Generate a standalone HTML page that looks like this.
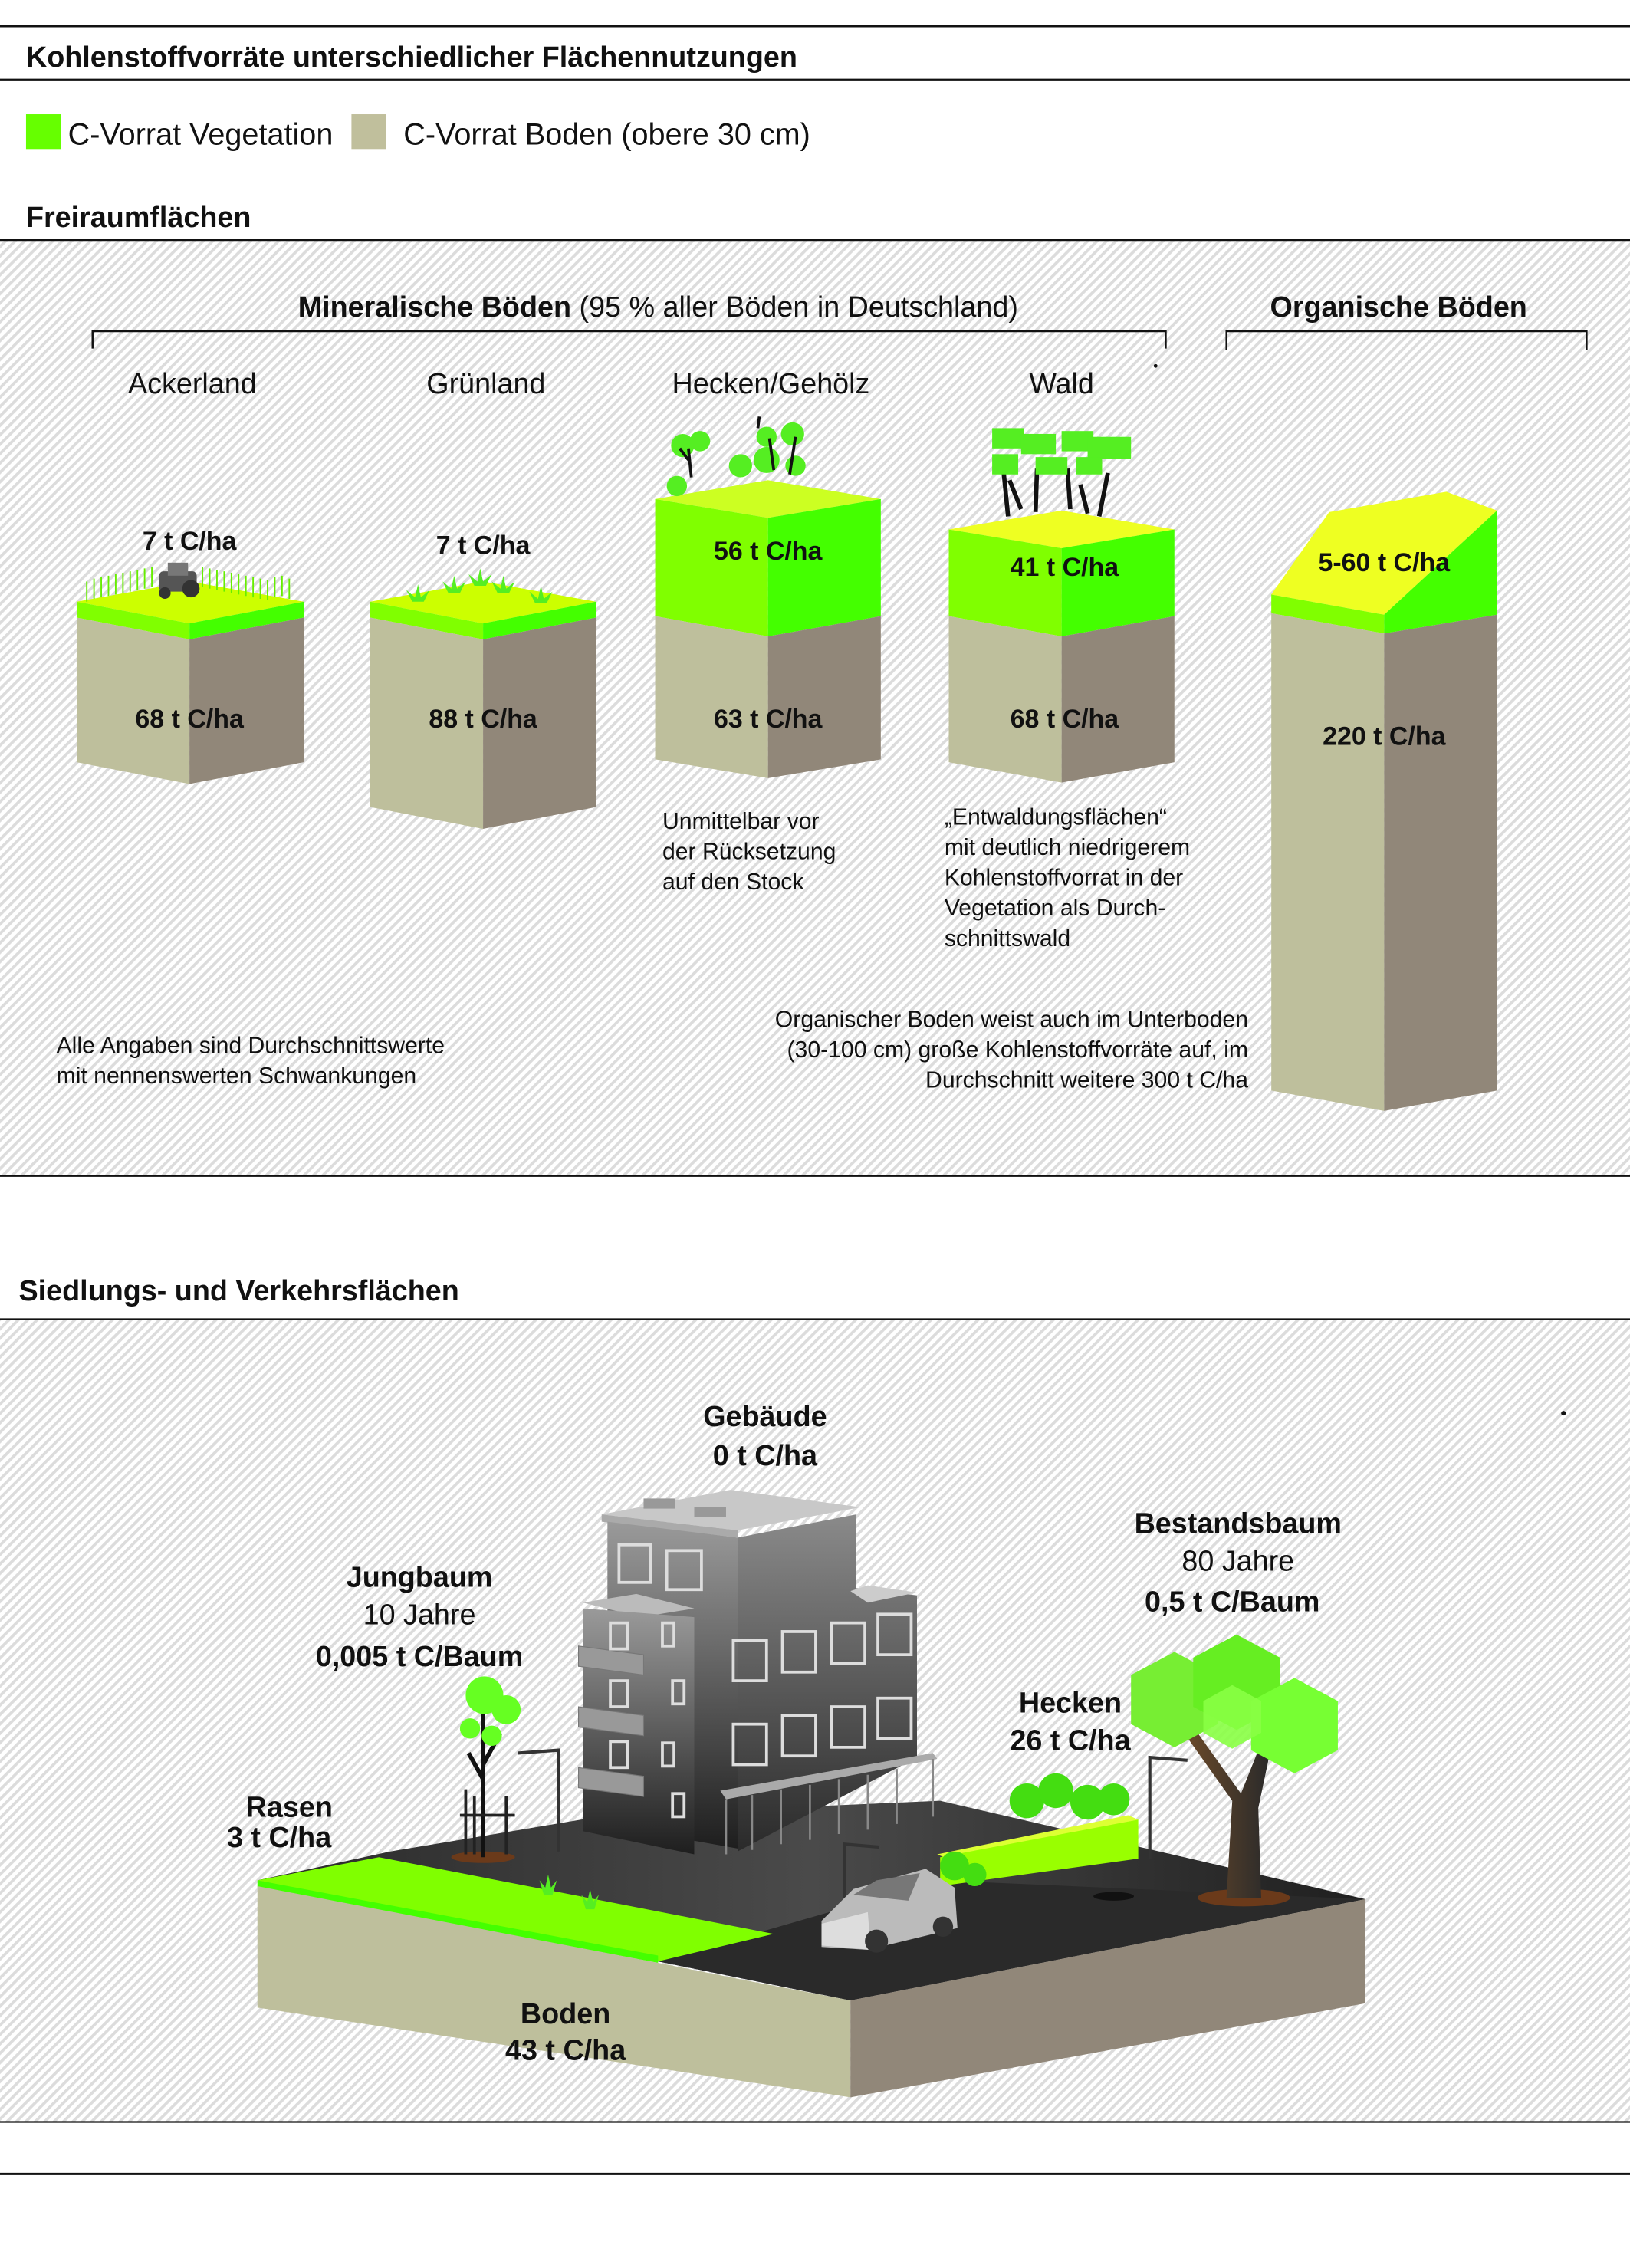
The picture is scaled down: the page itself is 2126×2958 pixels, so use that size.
<!DOCTYPE html>
<html><head><meta charset="utf-8"><style>
html,body{margin:0;padding:0;background:#fff}
svg{display:block}
text{font-family:"Liberation Sans",sans-serif;fill:#111}
.b{font-weight:bold}
.n{font-family:"Liberation Sans Narrow","Liberation Sans",sans-serif}
</style></head><body>
<svg width="2126" height="2958" viewBox="0 0 1127 1568" preserveAspectRatio="none" xmlns="http://www.w3.org/2000/svg">
<defs>
<pattern id="h" width="4.6" height="4.6" patternUnits="userSpaceOnUse" patternTransform="rotate(45)">
<rect width="4.6" height="4.6" fill="#fff"/><rect width="2" height="4.6" fill="#dcdcdc"/>
</pattern>
<linearGradient id="bg1" x1="0" y1="0" x2="0" y2="1"><stop offset="0" stop-color="#9a9a9a"/><stop offset="1" stop-color="#1e1e1e"/></linearGradient>
<linearGradient id="bg2" x1="0" y1="0" x2="0" y2="1"><stop offset="0" stop-color="#8a8a8a"/><stop offset="1" stop-color="#2a2a2a"/></linearGradient>
<linearGradient id="road" x1="0" y1="0" x2="1" y2="0"><stop offset="0" stop-color="#2a2a2a"/><stop offset="0.5" stop-color="#4a4a4a"/><stop offset="1" stop-color="#1f1f1f"/></linearGradient>
<linearGradient id="trunk" x1="0" y1="0" x2="1" y2="0"><stop offset="0" stop-color="#6b4a2a"/><stop offset="1" stop-color="#2a2a2a"/></linearGradient>
</defs>
<line x1="0" y1="18" x2="1127" y2="18" stroke="#111" stroke-width="1.6"/>
<text x="18" y="46" font-size="20" class="b">Kohlenstoffvorräte unterschiedlicher Flächennutzungen</text>
<line x1="0" y1="55" x2="1127" y2="55" stroke="#111" stroke-width="1.2"/>
<rect x="18" y="79" width="24" height="24" fill="#66ff00"/>
<text x="47" y="100" font-size="21">C-Vorrat Vegetation</text>
<rect x="243" y="79" width="24" height="24" fill="#c0bf9c"/>
<text x="279" y="100" font-size="21">C-Vorrat Boden (obere 30 cm)</text>
<text x="18" y="157" font-size="20" class="b">Freiraumflächen</text>
<rect x="0" y="166" width="1127" height="647" fill="url(#h)"/>
<line x1="0" y1="166" x2="1127" y2="166" stroke="#111" stroke-width="1.2"/>
<line x1="0" y1="813" x2="1127" y2="813" stroke="#111" stroke-width="1.2"/>

<text x="455" y="219" font-size="20" text-anchor="middle"><tspan class="b">Mineralische Böden</tspan> (95 % aller Böden in Deutschland)</text>
<text x="967" y="219" font-size="20" text-anchor="middle" class="b">Organische Böden</text>
<path d="M64 241V229H806V241" fill="none" stroke="#111" stroke-width="1.3"/>
<path d="M848 242V229H1097V242" fill="none" stroke="#111" stroke-width="1.3"/>
<circle cx="799" cy="253" r="1.3" fill="#111"/>
<text x="133" y="272" font-size="20" text-anchor="middle">Ackerland</text>
<text x="336" y="272" font-size="20" text-anchor="middle">Grünland</text>
<text x="533" y="272" font-size="20" text-anchor="middle">Hecken/Gehölz</text>
<text x="734" y="272" font-size="20" text-anchor="middle">Wald</text>

<g>
<polygon points="53,416 131,402 210,416 131,431" fill="#ccff00"/>
<g stroke="#66ee00" stroke-width="1">
<path d="M60 416v-14M65 414v-14M70 413v-14M75 412v-14M80 411v-14M85 410v-14M90 409v-14M95 408v-14M100 407v-14M105 406v-14M140 406v-14M145 407v-14M150 408v-14M155 409v-14M160 410v-14M165 411v-14M170 412v-14M175 413v-14M180 414v-14M185 415v-14M190 413v-14M195 412v-14M200 414v-14"/>
</g>
<rect x="110" y="395" width="26" height="14" rx="3" fill="#555"/><rect x="116" y="389" width="14" height="9" fill="#777"/>
<circle cx="132" cy="407" r="6" fill="#333"/><circle cx="114" cy="410" r="4" fill="#333"/>
<polygon points="53,416 131,431 131,442 53,427" fill="#80ff00"/>
<polygon points="131,431 210,416 210,427 131,442" fill="#44ff00"/>
<polygon points="53,427 131,442 131,542 53,527" fill="#bebf9c"/>
<polygon points="131,442 210,427 210,527 131,542" fill="#918779"/>
<text x="131" y="380" font-size="18" class="b" text-anchor="middle">7 t C/ha</text>
<text x="131" y="503" font-size="18" class="b" text-anchor="middle">68 t C/ha</text>
</g>
<g>
<polygon points="256,416 334,402 412,416 334,431" fill="#ccff00"/>
<g fill="#55ee22"><path d="M285 416l-4-8 6 5 2-9 2 9 6-5-4 8z"/><path d="M310 410l-4-8 6 5 2-9 2 9 6-5-4 8z"/><path d="M328 405l-4-8 6 5 2-9 2 9 6-5-4 8z"/><path d="M344 410l-4-8 6 5 2-9 2 9 6-5-4 8z"/><path d="M370 417l-4-8 6 5 2-9 2 9 6-5-4 8z"/></g>
<polygon points="256,416 334,431 334,442 256,427" fill="#80ff00"/>
<polygon points="334,431 412,416 412,427 334,442" fill="#44ff00"/>
<polygon points="256,427 334,442 334,573 256,558" fill="#bebf9c"/>
<polygon points="334,442 412,427 412,558 334,573" fill="#918779"/>
<text x="334" y="383" font-size="18" class="b" text-anchor="middle">7 t C/ha</text>
<text x="334" y="503" font-size="18" class="b" text-anchor="middle">88 t C/ha</text>
</g>
<g>
<polygon points="453,345 531,332 609,345 531,358" fill="#ccff22"/>
<g fill="#55ee22"><circle cx="472" cy="308" r="8"/><circle cx="484" cy="305" r="7"/><circle cx="530" cy="302" r="7"/><circle cx="548" cy="300" r="8"/><circle cx="512" cy="322" r="8"/><circle cx="530" cy="318" r="9"/><circle cx="550" cy="322" r="7"/><circle cx="468" cy="336" r="7"/></g>
<g stroke="#111" stroke-width="2" fill="none"><path d="M478 330l-2-20M476 318l-6-8M535 325l-3-22M546 328l4-26M524 296l1-8"/></g>
<polygon points="453,345 531,358 531,440 453,426" fill="#80ff00"/>
<polygon points="531,358 609,345 609,426 531,440" fill="#44ff00"/>
<polygon points="453,426 531,440 531,538 453,525" fill="#bebf9c"/>
<polygon points="531,440 609,426 609,525 531,538" fill="#918779"/>
<text x="531" y="387" font-size="18" class="b" text-anchor="middle">56 t C/ha</text>
<text x="531" y="503" font-size="18" class="b" text-anchor="middle">63 t C/ha</text>
</g>
<g>
<polygon points="656,366 734,353 812,366 734,379" fill="#eeff22"/>
<g stroke="#111" stroke-width="3" fill="none"><path d="M697 357l-3-30M716 354l1-30M740 352l-2-28M760 357l6-30M706 352l-8-20M752 355l-5-20"/></g>
<g fill="#55ee22"><rect x="686" y="296" width="22" height="14"/><rect x="706" y="300" width="24" height="14"/><rect x="734" y="298" width="22" height="14"/><rect x="752" y="302" width="30" height="15"/><rect x="686" y="314" width="18" height="14"/><rect x="716" y="316" width="22" height="12"/><rect x="744" y="316" width="18" height="12"/></g>
<polygon points="656,366 734,379 734,440 656,426" fill="#80ff00"/>
<polygon points="734,379 812,366 812,426 734,440" fill="#44ff00"/>
<polygon points="656,426 734,440 734,541 656,527" fill="#bebf9c"/>
<polygon points="734,440 812,426 812,527 734,541" fill="#918779"/>
<text x="736" y="398" font-size="18" class="b" text-anchor="middle">41 t C/ha</text>
<text x="736" y="503" font-size="18" class="b" text-anchor="middle">68 t C/ha</text>
</g>
<g>
<polygon points="879,411 919,354 1000,340 1035,353 957,425" fill="#eeff22"/>
<polygon points="879,411 957,425 957,438 879,424" fill="#80ff00"/>
<polygon points="957,425 1035,353 1035,425 957,438" fill="#44ff00"/>
<polygon points="879,424 957,438 957,768 879,754" fill="#bebf9c"/>
<polygon points="957,438 1035,425 1035,754 957,768" fill="#918779"/>
<text x="957" y="395" font-size="18" class="b" text-anchor="middle">5-60 t C/ha</text>
<text x="957" y="515" font-size="18" class="b" text-anchor="middle">220 t C/ha</text>
</g>
<g font-size="16">
<text x="458" y="573">Unmittelbar vor</text><text x="458" y="594">der Rücksetzung</text><text x="458" y="615">auf den Stock</text>
<text x="653" y="570">„Entwaldungsflächen“</text><text x="653" y="591">mit deutlich niedrigerem</text><text x="653" y="612">Kohlenstoffvorrat in der</text><text x="653" y="633">Vegetation als Durch-</text><text x="653" y="654">schnittswald</text>
<text x="39" y="728">Alle Angaben sind Durchschnittswerte</text><text x="39" y="749">mit nennenswerten Schwankungen</text>
<text x="863" y="710" text-anchor="end">Organischer Boden weist auch im Unterboden</text>
<text x="863" y="731" text-anchor="end">(30-100 cm) große Kohlenstoffvorräte auf, im</text>
<text x="863" y="752" text-anchor="end">Durchschnitt weitere 300 t C/ha</text>
</g>

<text x="13" y="899" font-size="20" class="b">Siedlungs- und Verkehrsflächen</text>
<rect x="0" y="912" width="1127" height="555" fill="url(#h)"/>
<line x1="0" y1="912" x2="1127" y2="912" stroke="#111" stroke-width="1.2"/>
<line x1="0" y1="1467" x2="1127" y2="1467" stroke="#111" stroke-width="1.2"/>
<line x1="0" y1="1503" x2="1127" y2="1503" stroke="#111" stroke-width="1.6"/>
<circle cx="1081" cy="977" r="1.6" fill="#111"/>

<polygon points="178,1300 270,1280 420,1255 650,1245 944,1313 588,1383" fill="url(#road)"/>
<polygon points="455,1356 650,1300 944,1313 588,1383" fill="#2a2a2a"/>
<polygon points="178,1300 262,1284 535,1337 455,1356" fill="#80ff00"/>
<polygon points="178,1300 455,1352 455,1357 178,1305" fill="#44ff00"/>
<polygon points="178,1304 455,1357 520,1370 588,1383 588,1450 178,1388" fill="#bebf9c"/>
<polygon points="588,1383 944,1313 944,1385 588,1450" fill="#918779"/>
<ellipse cx="770" cy="1311" rx="14" ry="3" fill="#111"/>

<g>
<polygon points="416,1047 505,1030 595,1042 510,1058" fill="#c8c8c8"/>
<polygon points="416,1047 510,1058 510,1063 416,1052" fill="#aaa"/>
<rect x="445" y="1036" width="22" height="7" fill="#999"/><rect x="480" y="1042" width="22" height="7" fill="#999"/>
<polygon points="420,1052 510,1063 510,1278 420,1262" fill="url(#bg1)"/>
<polygon points="510,1063 592,1047 592,1098 634,1103 634,1215 510,1280" fill="url(#bg2)"/>
<polygon points="588,1100 600,1096 634,1101 600,1108" fill="#ccc"/>
<polygon points="403,1108 440,1102 480,1112 443,1118" fill="#bbb"/>
<polygon points="403,1112 480,1118 480,1282 403,1266" fill="url(#bg1)"/>
<g fill="#999" stroke="#777" stroke-width="0.6"><polygon points="400,1138 445,1144 445,1158 400,1152"/><polygon points="400,1180 445,1186 445,1200 400,1194"/><polygon points="400,1222 445,1228 445,1242 400,1236"/></g>
<g fill="none" stroke="#ddd" stroke-width="2">
<rect x="428" y="1068" width="22" height="26"/><rect x="461" y="1072" width="24" height="27"/>
<rect x="422" y="1122" width="12" height="18"/><rect x="422" y="1162" width="12" height="18"/><rect x="422" y="1204" width="12" height="18"/>
<rect x="458" y="1122" width="8" height="16"/><rect x="465" y="1162" width="8" height="16"/><rect x="458" y="1205" width="8" height="16"/><rect x="465" y="1240" width="8" height="16"/>
<rect x="507" y="1134" width="23" height="28"/><rect x="541" y="1128" width="23" height="28"/><rect x="575" y="1122" width="23" height="28"/><rect x="607" y="1116" width="23" height="28"/>
<rect x="507" y="1192" width="23" height="28"/><rect x="541" y="1186" width="23" height="28"/><rect x="575" y="1180" width="23" height="28"/><rect x="607" y="1174" width="23" height="28"/>
</g>
<polygon points="498,1238 645,1212 648,1216 502,1244" fill="#aaa"/>
<g stroke="#888" stroke-width="1.4"><path d="M502 1244v38M520 1241v38M540 1237v38M560 1234v38M580 1230v38M600 1227v38M620 1223v38M645 1216v40"/></g>
</g>

<g stroke="#333" stroke-width="2.2" fill="none"><path d="M386 1280v-70l-28 2"/><path d="M584 1330v-55l24 2"/><path d="M795 1285v-70l26 2"/></g>

<polygon points="648,1282 780,1255 787,1258 655,1285" fill="#ddff33"/>
<polygon points="650,1284 787,1258 787,1285 650,1304" fill="#99ff00"/>
<g fill="#44dd11"><circle cx="710" cy="1245" r="12"/><circle cx="730" cy="1238" r="12"/><circle cx="752" cy="1246" r="12"/><circle cx="770" cy="1244" r="11"/><circle cx="660" cy="1290" r="10"/><circle cx="674" cy="1296" r="8"/></g>

<g>
<polygon points="568,1328 590,1306 640,1292 660,1305 662,1333 600,1348 568,1346" fill="#bbb"/>
<polygon points="590,1310 606,1300 636,1295 628,1314" fill="#777"/>
<polygon points="568,1330 600,1322 602,1348 568,1345" fill="#ddd"/>
<circle cx="606" cy="1342" r="8" fill="#333"/><circle cx="652" cy="1332" r="7" fill="#333"/>
</g>

<g>
<ellipse cx="334" cy="1284" rx="22" ry="4" fill="#6b3a1a"/>
<path d="M334 1284v-100M334 1230l-10-18M334 1220l12-22" stroke="#111" stroke-width="3" fill="none"/>
<g stroke="#222" stroke-width="2"><path d="M322 1282v-45M328 1282v-40M350 1282v-40M318 1255h38"/></g>
<g fill="#66ff22"><circle cx="335" cy="1172" r="13"/><circle cx="350" cy="1182" r="10"/><circle cx="325" cy="1195" r="7"/><circle cx="340" cy="1200" r="7"/></g>
</g>
<g fill="#55ee22"><path d="M376 1310l-3-10 4 5 2-9 2 9 4-5-3 10z"/><path d="M405 1320l-3-10 4 5 2-9 2 9 4-5-3 10z"/></g>

<g>
<ellipse cx="860" cy="1312" rx="32" ry="6" fill="#6b3a1a"/>
<polygon points="848,1312 852,1245 820,1200 828,1198 858,1240 870,1210 878,1212 870,1250 872,1312" fill="url(#trunk)"/>
<g fill="#77ee33"><polygon points="812,1142 842,1158 842,1192 812,1208 782,1192 782,1158"/></g>
<g fill="#66ee22"><polygon points="855,1130 885,1146 885,1180 855,1196 825,1180 825,1146"/></g>
<g fill="#77ff33"><polygon points="895,1160 925,1176 925,1210 895,1226 865,1210 865,1176"/></g>
<g fill="#88ff44" opacity="0.9"><polygon points="852,1165 872,1176 872,1198 852,1209 832,1198 832,1176"/></g>
</g>

<g font-size="20" text-anchor="middle" class="n">
<text x="529" y="986" class="b">Gebäude</text><text x="529" y="1013" class="b">0 t C/ha</text>
<text x="856" y="1060" class="b">Bestandsbaum</text><text x="856" y="1086">80 Jahre</text><text x="852" y="1114" class="b">0,5 t C/Baum</text>
<text x="290" y="1097" class="b">Jungbaum</text><text x="290" y="1123">10 Jahre</text><text x="290" y="1152" class="b">0,005 t C/Baum</text>
<text x="740" y="1184" class="b">Hecken</text><text x="740" y="1210" class="b">26 t C/ha</text>
<text x="200" y="1256" class="b">Rasen</text><text x="193" y="1277" class="b">3 t C/ha</text>
<text x="391" y="1399" class="b">Boden</text><text x="391" y="1424" class="b">43 t C/ha</text>
</g>
</svg>
</body></html>
